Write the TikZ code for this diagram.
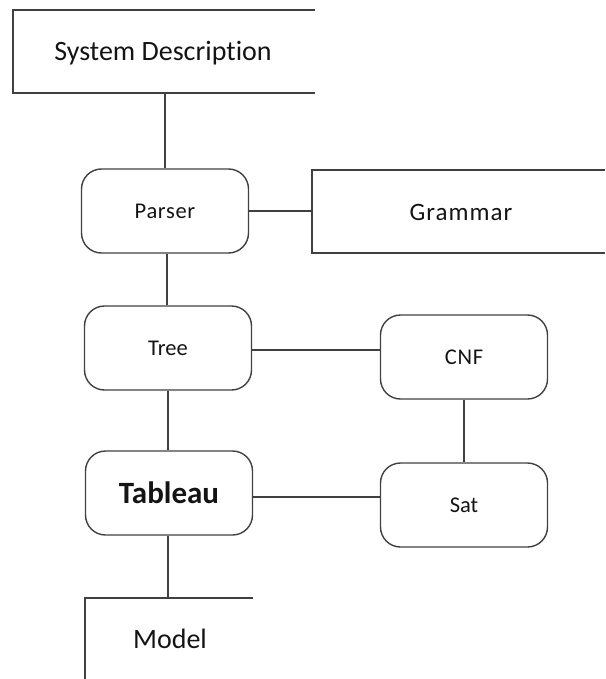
\documentclass[tikz,border=0pt]{standalone}
\usepackage{fontspec}
\setmainfont[Ligatures=NoCommon]{Carlito}
\begin{document}
\begin{tikzpicture}[x=1pt,y=-1pt,
  line width=1.4pt,
  every node/.style={text=black!92},
  edge/.style={draw=black!75},
  openbox/.style={draw=black!75},
  proc/.style={draw=black!75, rounded corners=20pt, minimum width=167pt, minimum height=84pt, font=\fontsize{22.5}{26}\selectfont},
  label/.style={font=\fontsize{28}{32}\selectfont}]
  \useasboundingbox (0,0) rectangle (605,679);

  % open-ended boxes (three-sided frames)
  \draw[openbox] (315,10) -- (13,10) -- (13,93) -- (315,93);
  \node[label] (sys) at (163,53) {System Description};
  \coordinate (sysb) at (165,93);

  \draw[openbox] (605,170) -- (312,170) -- (312,253) -- (605,253);
  \node[label, font=\fontsize{25}{30}\selectfont\addfontfeature{LetterSpace=4}] (gram) at (461,212) {Grammar};
  \coordinate (gramw) at (312,211);

  \draw[openbox] (253,598) -- (85,598) -- (85,679);
  \node[label] (model) at (170,639) {Model};
  \coordinate (modelt) at (168,598);

  % processing stages
  \node[proc] (parser) at (165,211) {\addfontfeature{LetterSpace=3}Parser};
  \node[proc] (tree) at (168,348) {Tree};
  \node[proc, font=\fontsize{31}{36}\selectfont\bfseries] (tab) at (169,493) {Tableau};
  \node[proc] (cnf) at (464,357) {\addfontfeature{LetterSpace=3}CNF};
  \node[proc] (sat) at (464,505) {Sat};

  % connectors
  \draw[edge] (sysb) -- (parser.north -| sysb);
  \draw[edge] (parser.east) -- (gramw);
  \draw[edge] (parser.south -| 167,0) -- (tree.north -| 167,0);
  \draw[edge] (tree.east |- 0,350) -- (cnf.west |- 0,350);
  \draw[edge] (cnf.south) -- (sat.north);
  \draw[edge] (tree.south -| 168,0) -- (tab.north -| 168,0);
  \draw[edge] (tab.east |- 0,497) -- (sat.west |- 0,497);
  \draw[edge] (tab.south -| modelt) -- (modelt);
\end{tikzpicture}
\end{document}
